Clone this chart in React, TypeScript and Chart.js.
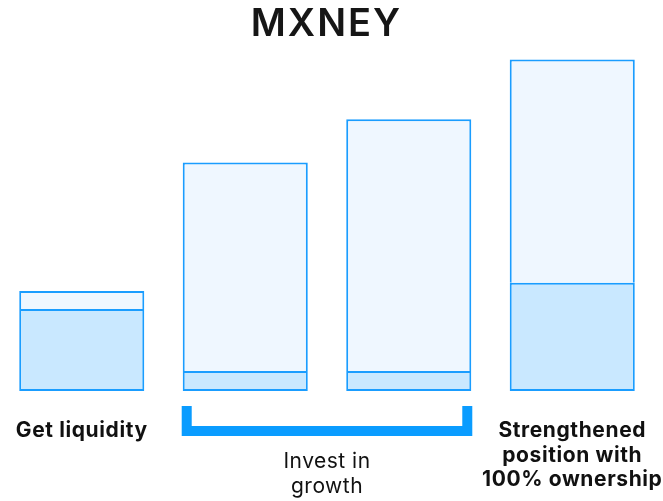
import React, { useEffect, useRef } from "react";
import { Chart, registerables } from "chart.js";

Chart.register(...registerables);

const categories = ["Get liquidity", "Invest 1", "Invest 2", "Strengthened position"];
const baseValues = [81.5, 20, 20, 107.5];
const topValues = [18, 207, 250, 222];
const titleText = "MXNEY";
const barLabels: string[][] = [["Get liquidity"], [], [], ["Strengthened", "position with", "100% ownership"]];
const groupLabel = ["Invest in", "growth"];
const groupRange = [1, 2];

const BORDER = "#1A9DFF";
const BRACKET = "#0A9CFF";
const FONT = "Inter";

const overlayPlugin = {
  id: "overlay",
  afterDraw(chart: any) {
    const ctx = chart.ctx as CanvasRenderingContext2D;
    const meta = chart.getDatasetMeta(0);
    const base = 390;
    ctx.save();
    // title
    ctx.fillStyle = "#161616";
    ctx.textAlign = "center";
    ctx.textBaseline = "alphabetic";
    ctx.font = `600 38px ${FONT}`;
    (ctx as any).letterSpacing = "2px";
    ctx.fillText(titleText, chart.width / 2 - 5, 36);

    // bar labels
    ctx.fillStyle = "#111111";
    ctx.font = `700 21px ${FONT}`;
    (ctx as any).letterSpacing = "0.6px";
    barLabels.forEach((lines, i) => {
      const bar = meta.data[i];
      lines.forEach((line, j) => {
        ctx.fillText(line, bar.x, base + 47 + j * 24.5);
      });
    });

    // bracket
    const b1 = meta.data[groupRange[0]];
    const b2 = meta.data[groupRange[1]];
    const left = b1.x - b1.width / 2 - 1;
    const right = b2.x + b2.width / 2 + 1;
    const top = base + 16;
    const bottom = base + 46;
    const t = 10;
    ctx.fillStyle = BRACKET;
    ctx.beginPath();
    ctx.moveTo(left, top);
    ctx.lineTo(left + t, top);
    ctx.lineTo(left + t, bottom - t);
    ctx.lineTo(right - t, bottom - t);
    ctx.lineTo(right - t, top);
    ctx.lineTo(right, top);
    ctx.lineTo(right, bottom);
    ctx.lineTo(left, bottom);
    ctx.closePath();
    ctx.fill();

    // group label
    ctx.fillStyle = "#111111";
    ctx.font = `400 21px ${FONT}`;
    (ctx as any).letterSpacing = "0.5px";
    const cx = (b1.x + b2.x) / 2;
    groupLabel.forEach((line, j) => {
      ctx.fillText(line, cx, base + 78 + j * 25);
    });
    (ctx as any).letterSpacing = "0px";
    ctx.restore();
  },
};

export default function App() {
  const ref = useRef<HTMLCanvasElement>(null);
  useEffect(() => {
    if (!ref.current) return;
    const chart = new Chart(ref.current, {
      type: "bar",
      data: {
        labels: categories,
        datasets: [
          {
            data: baseValues,
            backgroundColor: "#C9E8FF",
            borderColor: BORDER,
            borderWidth: 2,
            borderSkipped: false,
            barPercentage: 0.765,
            categoryPercentage: 1,
          },
          {
            data: topValues,
            backgroundColor: "#EFF7FF",
            borderColor: BORDER,
            borderWidth: { top: 2, left: 2, right: 2, bottom: 0 },
            borderSkipped: false,
            barPercentage: 0.765,
            categoryPercentage: 1,
          },
        ],
      },
      options: {
        animation: false,
        responsive: true,
        maintainAspectRatio: false,
        layout: { padding: { left: 0, right: 9, top: 59, bottom: 110 } },
        plugins: { legend: { display: false }, tooltip: { enabled: false }, title: { display: false } },
        scales: {
          x: { display: false, stacked: true },
          y: { display: false, stacked: true, min: 0, max: 330 },
        },
      },
      plugins: [overlayPlugin],
    });
    return () => chart.destroy();
  }, []);
  return (
    <div style={{ position: "absolute", left: 0, top: 0, width: 663, height: 501 }}>
      <canvas ref={ref} />
    </div>
  );
}
